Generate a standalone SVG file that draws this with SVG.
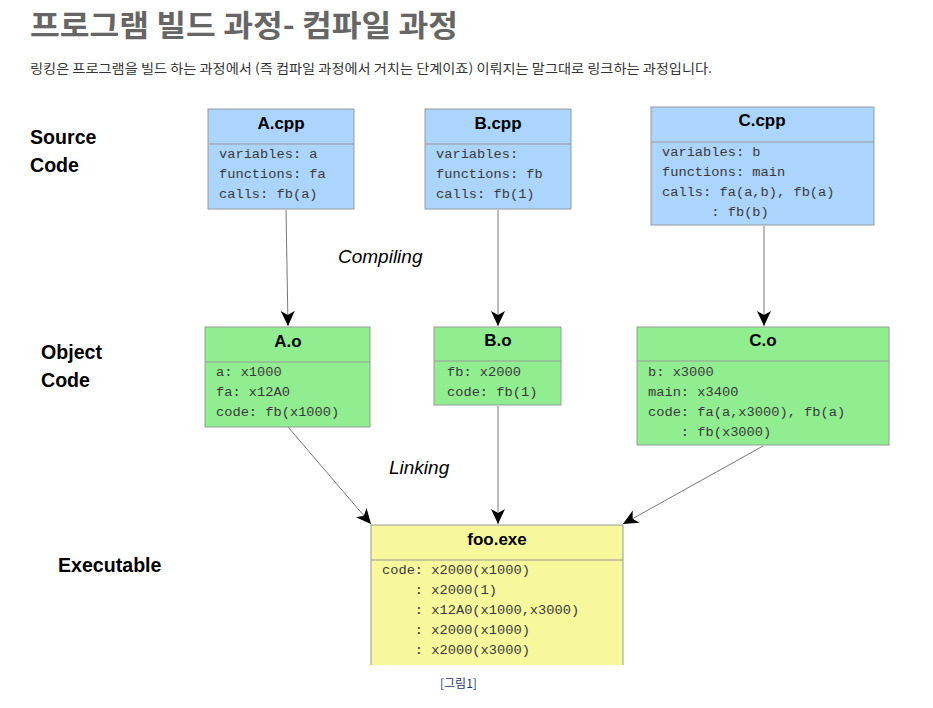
<svg xmlns="http://www.w3.org/2000/svg" width="933" height="708" viewBox="0 0 933 708">
<style>
.ttl{font-family:"Noto Sans CJK KR","Noto Sans",sans-serif;font-weight:bold;font-size:30px;fill:#666}
.sub{font-family:"Noto Sans CJK KR","Noto Sans",sans-serif;font-size:13px;fill:#333}
.lbl{font-family:"Liberation Sans",Arial,sans-serif;font-weight:bold;font-size:19.6px;fill:#000}
.it{font-family:"Liberation Sans",Arial,sans-serif;font-style:italic;font-size:19px;fill:#000}
.hd{font-family:"Liberation Sans",Arial,sans-serif;font-weight:bold;font-size:17px;fill:#000;text-anchor:middle}
.mono{font-family:"Liberation Mono","Courier New",monospace;font-size:13.7px;fill:#3a3a3a;white-space:pre}
.box{stroke:#999;stroke-width:1}
.blue{fill:#abd5fd}
.green{fill:#90ee90}
.yellow{fill:#f7f79c}
.div{stroke:#999;stroke-width:1}
.con{stroke:#777;stroke-width:1;fill:none;marker-end:url(#arr)}
.fig{font-family:"Noto Sans CJK KR","Noto Sans",sans-serif;font-size:12px;fill:#1a3a6a}
</style>
<defs>
<marker id="arr" markerWidth="16" markerHeight="16" viewBox="0 0 16 16" refX="15" refY="8" orient="auto" markerUnits="userSpaceOnUse">
<path d="M0,1 L15,8 L0,15 L4,8 Z" fill="#000"/>
</marker>
</defs>
<rect width="933" height="708" fill="#fff"/>
<text class="ttl" x="30" y="36" textLength="428" lengthAdjust="spacingAndGlyphs">프로그램 빌드 과정- 컴파일 과정</text>
<text class="sub" x="30" y="73" textLength="682" lengthAdjust="spacingAndGlyphs">링킹은 프로그램을 빌드 하는 과정에서 (즉 컴파일 과정에서 거치는 단계이죠) 이뤄지는 말그대로 링크하는 과정입니다.</text>

<g id="labels">
<text class="lbl" x="30" y="144">Source</text>
<text class="lbl" x="30" y="172">Code</text>
<text class="lbl" x="41" y="359">Object</text>
<text class="lbl" x="41" y="387">Code</text>
<text class="lbl" x="58" y="572">Executable</text>
<text class="it" x="338" y="263">Compiling</text>
<text class="it" x="389" y="474">Linking</text>
</g>

<g id="connectors">
<line class="con" x1="286" y1="210" x2="288" y2="326"/>
<line class="con" x1="498" y1="210" x2="498" y2="326"/>
<line class="con" x1="764" y1="226" x2="764" y2="326"/>
<line class="con" x1="288" y1="427" x2="371" y2="524"/>
<line class="con" x1="498" y1="406" x2="498" y2="524"/>
<line class="con" x1="763" y1="446" x2="623" y2="524"/>
</g>

<g id="A_cpp">
<rect class="box blue" x="208" y="109" width="146" height="100"/>
<line class="div" x1="208" y1="144" x2="354" y2="144"/>
<text class="hd" x="281" y="129">A.cpp</text>
<text class="mono" x="219" y="158">variables: a</text>
<text class="mono" x="219" y="178">functions: fa</text>
<text class="mono" x="219" y="198">calls: fb(a)</text>
</g>

<g id="B_cpp">
<rect class="box blue" x="425" y="109" width="146" height="100"/>
<line class="div" x1="425" y1="144" x2="571" y2="144"/>
<text class="hd" x="498" y="129">B.cpp</text>
<text class="mono" x="436" y="158">variables:</text>
<text class="mono" x="436" y="178">functions: fb</text>
<text class="mono" x="436" y="198">calls: fb(1)</text>
</g>

<g id="C_cpp">
<rect class="box blue" x="651" y="107" width="223" height="118"/>
<line class="div" x1="651" y1="142" x2="874" y2="142"/>
<text class="hd" x="762" y="126">C.cpp</text>
<text class="mono" x="662" y="156">variables: b</text>
<text class="mono" x="662" y="176">functions: main</text>
<text class="mono" x="662" y="196">calls: fa(a,b), fb(a)</text>
<text class="mono" x="662" y="216" xml:space="preserve">      : fb(b)</text>
</g>

<g id="A_o">
<rect class="box green" x="205" y="327" width="165" height="100"/>
<line class="div" x1="205" y1="362" x2="370" y2="362"/>
<text class="hd" x="288" y="347">A.o</text>
<text class="mono" x="216" y="376">a: x1000</text>
<text class="mono" x="216" y="396">fa: x12A0</text>
<text class="mono" x="216" y="416">code: fb(x1000)</text>
</g>

<g id="B_o">
<rect class="box green" x="434" y="327" width="127" height="78"/>
<line class="div" x1="434" y1="361" x2="561" y2="361"/>
<text class="hd" x="498" y="346">B.o</text>
<text class="mono" x="447" y="376">fb: x2000</text>
<text class="mono" x="447" y="396">code: fb(1)</text>
</g>

<g id="C_o">
<rect class="box green" x="637" y="327" width="252" height="118"/>
<line class="div" x1="637" y1="361" x2="889" y2="361"/>
<text class="hd" x="763" y="346">C.o</text>
<text class="mono" x="648" y="376">b: x3000</text>
<text class="mono" x="648" y="396">main: x3400</text>
<text class="mono" x="648" y="416">code: fa(a,x3000), fb(a)</text>
<text class="mono" x="648" y="436" xml:space="preserve">    : fb(x3000)</text>
</g>

<g id="foo_exe">
<rect class="yellow" x="371" y="525" width="252" height="140"/>
<path d="M371,665 V525 H623 V665" fill="none" stroke="#999" stroke-width="1"/>
<line class="div" x1="371" y1="560" x2="623" y2="560"/>
<text class="hd" x="497" y="545">foo.exe</text>
<text class="mono" x="382" y="574">code: x2000(x1000)</text>
<text class="mono" x="382" y="594" xml:space="preserve">    : x2000(1)</text>
<text class="mono" x="382" y="614" xml:space="preserve">    : x12A0(x1000,x3000)</text>
<text class="mono" x="382" y="634" xml:space="preserve">    : x2000(x1000)</text>
<text class="mono" x="382" y="654" xml:space="preserve">    : x2000(x3000)</text>
</g>

<text class="fig" x="440" y="688">[그림1]</text>
</svg>
